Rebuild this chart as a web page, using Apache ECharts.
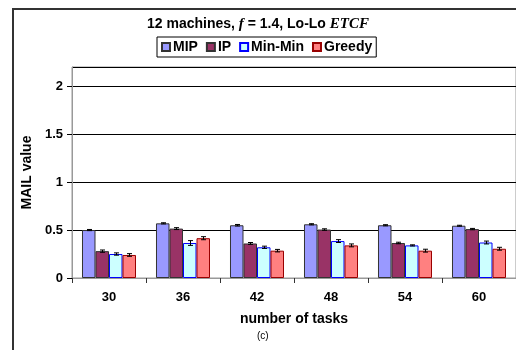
<!DOCTYPE html>
<html>
<head>
<meta charset="utf-8">
<script src="https://cdn.jsdelivr.net/npm/echarts@6/dist/echarts.min.js"></script>
<style>
  html, body { margin: 0; padding: 0; background: #fff; }
  #chart { width: 516px; height: 350px; }
</style>
</head>
<body>
<div id="chart"></div>
<script>
// Task counts on the x axis
var categories = ['30', '36', '42', '48', '54', '60'];

// Mean MAIL value per heuristic
var mipValues    = [0.50, 0.57, 0.55, 0.56, 0.55, 0.545];
var ipValues     = [0.28, 0.515, 0.36, 0.505, 0.365, 0.51];
var minMinValues = [0.25, 0.365, 0.32, 0.385, 0.34, 0.37];
var greedyValues = [0.24, 0.415, 0.285, 0.34, 0.285, 0.305];

// Half-widths of the error bars
var mipErr    = [0.006, 0.006, 0.008, 0.006, 0.006, 0.005];
var ipErr     = [0.012, 0.010, 0.010, 0.008, 0.008, 0.007];
var minMinErr = [0.012, 0.025, 0.012, 0.015, 0.006, 0.015];
var greedyErr = [0.014, 0.016, 0.013, 0.015, 0.015, 0.015];

var yTicks = [0, 0.5, 1, 1.5, 2];

var chart = echarts.init(document.getElementById('chart'));

var CAT_GAP = 0.27;
var groups = [
  { name: 'MIP',     values: mipValues,    err: mipErr,    fill: '#9999FF', border: '#333333' },
  { name: 'IP',      values: ipValues,     err: ipErr,     fill: '#993366', border: '#333333' },
  { name: 'Min-Min', values: minMinValues, err: minMinErr, fill: '#CCFFFF', border: '#0000FF' },
  { name: 'Greedy',  values: greedyValues, err: greedyErr, fill: '#FF8080', border: '#990000' }
];

var series = [];
groups.forEach(function (g) {
  series.push({
    name: g.name,
    type: 'bar',
    data: g.values,
    barGap: '0%',
    barCategoryGap: (CAT_GAP * 100) + '%',
    itemStyle: { color: g.fill, borderColor: g.border, borderWidth: 1 },
    z: 2
  });
});

// Error bars, placed over the matching bar inside each category group
groups.forEach(function (g, gi) {
  var errData = g.values.map(function (v, i) { return [i, v - g.err[i], v + g.err[i]]; });
  series.push({
    name: g.name + ' error',
    type: 'custom',
    data: errData,
    z: 5,
    silent: true,
    renderItem: function (params, api) {
      var idx = api.value(0);
      var lo = api.coord([idx, api.value(1)]);
      var hi = api.coord([idx, api.value(2)]);
      var catW = api.size([1, 0])[0];
      var barW = catW * (1 - CAT_GAP) / groups.length;
      var x = lo[0] + (gi - (groups.length - 1) / 2) * barW;
      x = Math.round(x) + 0.5;
      var cap = 2.5;
      var style = { stroke: '#000', lineWidth: 1 };
      return {
        type: 'group',
        children: [
          { type: 'line', shape: { x1: x, y1: lo[1], x2: x, y2: hi[1] }, style: style },
          { type: 'line', shape: { x1: x - cap, y1: lo[1], x2: x + cap, y2: lo[1] }, style: style },
          { type: 'line', shape: { x1: x - cap, y1: hi[1], x2: x + cap, y2: hi[1] }, style: style }
        ]
      };
    }
  });
});

var boldFont = 'Liberation Sans, Arial, sans-serif';

chart.setOption({
  animation: false,
  backgroundColor: '#ffffff',
  textStyle: { fontFamily: boldFont },
  title: {
    left: 'center',
    top: 12,
    textStyle: {
      rich: {
        a: { fontFamily: boldFont, fontWeight: 'bold', fontSize: 14, color: '#000' },
        i: { fontFamily: 'Liberation Serif, Times New Roman, serif', fontStyle: 'italic', fontWeight: 'bold', fontSize: 15, color: '#000' }
      }
    },
    text: '{a|12 machines, }{i|f}{a| = 1.4, Lo-Lo }{i|ETCF}'
  },
  legend: {
    data: groups.map(function (g) { return g.name; }),
    left: 157,
    top: 37,
    padding: [3, 4, 3, 4],
    borderColor: '#000',
    borderWidth: 1,
    itemWidth: 8,
    itemHeight: 8,
    itemGap: 8,
    icon: 'rect',
    textStyle: { fontFamily: boldFont, fontWeight: 'bold', fontSize: 14, color: '#000', padding: [0, 0, 0, -2] }
  },
  grid: { left: 72, top: 67, right: -2, bottom: 72, show: true, borderColor: '#999', borderWidth: 1 },
  xAxis: {
    type: 'category',
    data: categories,
    name: 'number of tasks',
    nameLocation: 'middle',
    nameGap: 34,
    nameTextStyle: { fontFamily: boldFont, fontWeight: 'bold', fontSize: 14, color: '#000' },
    axisLine: { lineStyle: { color: '#999', width: 1 } },
    axisTick: { show: true, length: 5, lineStyle: { color: '#333' } },
    axisLabel: { fontFamily: boldFont, fontWeight: 'bold', fontSize: 13, color: '#000', margin: 13 }
  },
  yAxis: {
    type: 'value',
    min: 0,
    max: 2.2,
    interval: 0.5,
    name: 'MAIL value',
    nameLocation: 'middle',
    nameGap: 38,
    nameTextStyle: { fontFamily: boldFont, fontWeight: 'bold', fontSize: 14, color: '#000' },
    axisLine: { show: true, lineStyle: { color: '#999', width: 1 } },
    axisTick: { show: true, length: 5, lineStyle: { color: '#000' } },
    axisLabel: {
      fontFamily: boldFont, fontWeight: 'bold', fontSize: 13, color: '#000', margin: 9,
      showMaxLabel: false,
      formatter: function (v) { return yTicks.indexOf(v) >= 0 ? String(v) : ''; }
    },
    splitLine: { show: true, lineStyle: { color: '#000', width: 1 } }
  },
  graphic: [
    { type: 'line', shape: { x1: 13, y1: 9, x2: 516, y2: 9 }, style: { stroke: '#333', lineWidth: 2 } },
    { type: 'line', shape: { x1: 13, y1: 8, x2: 13, y2: 350 }, style: { stroke: '#333', lineWidth: 2 } },
    { type: 'text', left: 257, top: 331, style: { text: '(c)', font: '10px ' + boldFont, fill: '#000' } }
  ],
  series: series
});
</script>
</body>
</html>
